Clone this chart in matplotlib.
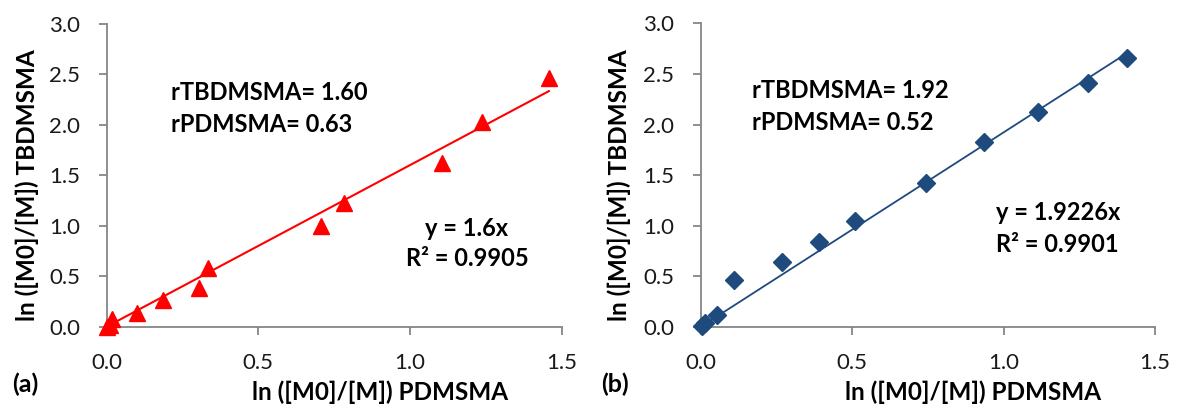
import numpy as np
import matplotlib.pyplot as plt

plt.rcParams['font.family'] = ['Lato', 'DejaVu Sans']

# panel (a): PDMSMA vs TBDMSMA, red triangles
xa = [0.0, 0.01, 0.017, 0.099, 0.187, 0.305, 0.335, 0.706, 0.782, 1.104, 1.238, 1.458]
ya = [0.0, 0.02, 0.08, 0.14, 0.26, 0.38, 0.58, 1.0, 1.22, 1.62, 2.03, 2.46]
slope_a = 1.6

# panel (b): blue diamonds
xb = [0.005, 0.015, 0.053, 0.111, 0.27, 0.39, 0.51, 0.744, 0.936, 1.113, 1.28, 1.406]
yb = [0.01, 0.04, 0.12, 0.46, 0.64, 0.84, 1.05, 1.42, 1.83, 2.12, 2.41, 2.655]
slope_b = 1.9226

xticks = [0.0, 0.5, 1.0, 1.5]
yticks = [0.0, 0.5, 1.0, 1.5, 2.0, 2.5, 3.0]

W, H = 1177, 404
fig = plt.figure(figsize=(W/100, H/100), dpi=100)

def px(x, y):
    return x/W, 1 - y/H

ax1 = fig.add_axes([106.6/W, (H-326.7)/H, 455.1/W, 303/H])
ax2 = fig.add_axes([700.5/W, (H-327)/H, 454.5/W, 303.6/H])

red = '#FF0000'
blue = '#1F4A7E'
gray = '#868686'

ax1.plot(xa, ya, linestyle='none', marker='^', ms=12, color=red, clip_on=False, zorder=3)
xf = np.array([0, max(xa)])
ax1.plot(xf, slope_a*xf, color=red, lw=1.5, zorder=2)

ax2.plot(xb, yb, linestyle='none', marker='D', ms=9.5, color=blue, clip_on=False, zorder=3)
xf = np.array([0, max(xb)])
ax2.plot(xf, slope_b*xf, color=blue, lw=1.3, zorder=2)

lab_fs = 17.5
for ax in (ax1, ax2):
    ax.set_xlim(0, 1.5)
    ax.set_ylim(0, 3.0)
    ax.set_xticks(xticks)
    ax.set_yticks(yticks)
    ax.set_xticklabels(['%.1f' % v for v in xticks])
    ax.set_yticklabels(['%.1f' % v for v in yticks])
    ax.spines['top'].set_visible(False)
    ax.spines['right'].set_visible(False)
    ax.spines['left'].set_color(gray)
    ax.spines['bottom'].set_color(gray)
    ax.spines['left'].set_linewidth(1.3)
    ax.spines['bottom'].set_linewidth(1.3)
    ax.tick_params(direction='out', length=6, width=1.3, color=gray,
                   labelsize=16, labelcolor='#1a1a1a')
    ax.tick_params(axis='y', pad=13)
    ax.tick_params(axis='x', pad=13)
    ax.set_xlabel('ln ([M0]/[M]) PDMSMA', fontsize=lab_fs, fontweight='bold',
                  va='baseline', ha='center')
    ax.set_ylabel('ln ([M0]/[M]) TBDMSMA', fontsize=lab_fs, fontweight='bold',
                  va='center', ha='center')
    ax.xaxis.set_label_coords(0.60, -0.242)

ax1.yaxis.set_label_coords(-0.175, 0.468)
ax2.yaxis.set_label_coords(-0.179, 0.468)

fs = 17
fig.text(*px(12, 384), '(a)', fontsize=18, fontweight='bold', va='center')
fig.text(*px(601, 384), '(b)', fontsize=18, fontweight='bold', va='center')

fig.text(*px(171, 93), 'rTBDMSMA= 1.60', fontsize=fs, fontweight='bold', va='center')
fig.text(*px(171, 124), 'rPDMSMA= 0.63', fontsize=fs, fontweight='bold', va='center')
fig.text(*px(467, 229), 'y = 1.6x', fontsize=fs, fontweight='bold', va='center', ha='center')
fig.text(*px(467, 258), 'R² = 0.9905', fontsize=fs, fontweight='bold', va='center', ha='center')

fig.text(*px(752, 90), 'rTBDMSMA= 1.92', fontsize=fs, fontweight='bold', va='center')
fig.text(*px(752, 122), 'rPDMSMA= 0.52', fontsize=fs, fontweight='bold', va='center')
fig.text(*px(996, 213), 'y = 1.9226x', fontsize=fs, fontweight='bold', va='center')
fig.text(*px(996, 244), 'R² = 0.9901', fontsize=fs, fontweight='bold', va='center')

fig.savefig('out.png', dpi=100)
